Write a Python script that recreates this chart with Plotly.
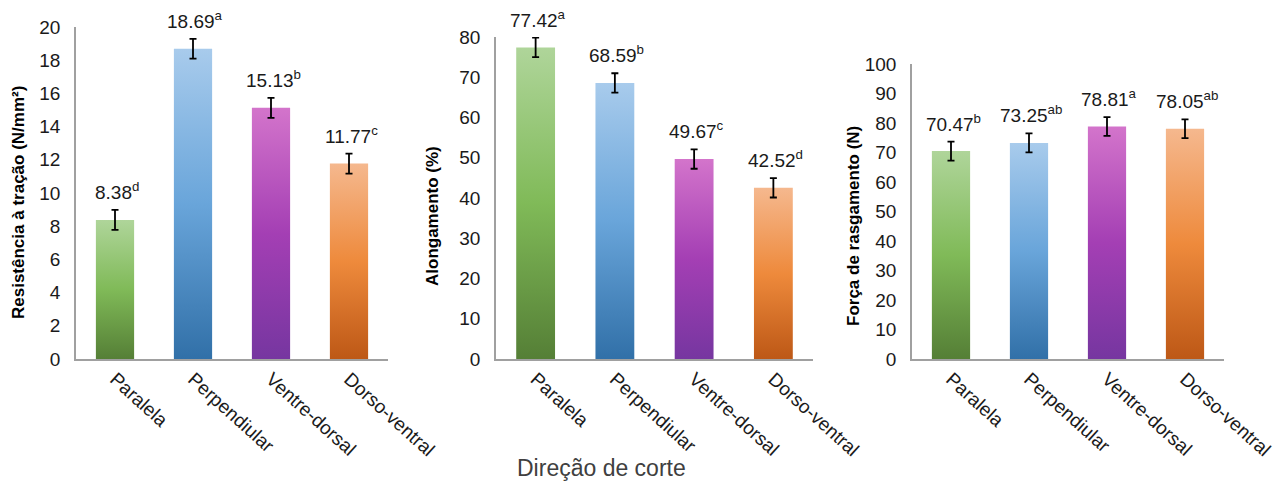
import plotly.graph_objects as go

categories = ["Paralela", "Perpendiular", "Ventre-dorsal", "Dorso-ventral"]

resistencia = [8.38, 18.69, 15.13, 11.77]
resistencia_err = [0.6, 0.6, 0.6, 0.6]
resistencia_sig = ["d", "a", "b", "c"]

alongamento = [77.42, 68.59, 49.67, 42.52]
alongamento_err = [2.4, 2.4, 2.4, 2.4]
alongamento_sig = ["a", "b", "c", "d"]

forca = [70.47, 73.25, 78.81, 78.05]
forca_err = [3.2, 3.2, 3.2, 3.2]
forca_sig = ["b", "ab", "a", "ab"]

y_titles = ["Resistência à tração (N/mm²)", "Alongamento (%)", "Força de rasgamento (N)"]
y_ticks = [list(range(0, 21, 2)), list(range(0, 81, 10)), list(range(0, 101, 10))]
y_max = [20, 80, 100]
x_title = "Direção de corte"

# gradient (bottom, middle, top) per category
grads = [
    ["#557f36", "#80ba58", "#afd59a"],
    ["#3170a8", "#69a5da", "#a8cbec"],
    ["#7636a0", "#a43fb4", "#d374cb"],
    ["#bd5816", "#ee8a3c", "#f5b88e"],
]

W, H = 1277, 482
x_dom = [(76, 388), (496, 813), (912, 1224)]
y_top_px = [27, 37, 64]
y_zero_px = 359
title_x_px = [18, 433, 853]
title_y_px = [189, 202, 212]

fig = go.Figure()
series = [
    (resistencia, resistencia_err, resistencia_sig),
    (alongamento, alongamento_err, alongamento_sig),
    (forca, forca_err, forca_sig),
]
bw = 0.49
annotations = []
for i, (vals, errs, sigs) in enumerate(series):
    xa = "x" if i == 0 else f"x{i+1}"
    ya = "y" if i == 0 else f"y{i+1}"
    for j, v in enumerate(vals):
        xs = [j - bw / 2, j + bw / 2, j + bw / 2, j - bw / 2, j - bw / 2]
        ys = [0, 0, v, v, 0]
        fig.add_trace(go.Scatter(
            x=xs, y=ys, xaxis=xa, yaxis=ya, mode="none", fill="toself",
            fillgradient=dict(type="vertical",
                              colorscale=[[0, grads[j][0]], [0.5, grads[j][1]], [1, grads[j][2]]]),
            showlegend=False, hoverinfo="skip"))
    fig.add_trace(go.Scatter(
        x=list(range(len(vals))), y=vals, xaxis=xa, yaxis=ya, mode="markers",
        marker=dict(size=1, opacity=0),
        error_y=dict(type="data", array=errs, visible=True, color="#000000", thickness=1.8, width=3.5),
        showlegend=False, hoverinfo="skip"))
    for j, v in enumerate(vals):
        annotations.append(dict(
            x=j, y=v + errs[j], xref=xa, yref=ya, xanchor="center", yanchor="bottom",
            text=f"{v:.2f}<sup>{sigs[j]}</sup>", showarrow=False, yshift=5, xshift=2,
            font=dict(size=19, color="#1a1a1a", family="Liberation Sans")))
    annotations.append(dict(
        x=title_x_px[i] / W, y=(H - title_y_px[i]) / H, xref="paper", yref="paper",
        xanchor="center", yanchor="middle", textangle=-90, text=f"<b>{y_titles[i]}</b>",
        showarrow=False, yshift=-14, font=dict(size=17, color="#000000", family="Liberation Sans")))

annotations.append(dict(
    x=601 / W, y=(H - 468) / H, xref="paper", yref="paper", xanchor="center", yanchor="middle",
    text=x_title, showarrow=False, font=dict(size=23, color="#404040", family="Liberation Sans")))

layout = dict(
    width=W, height=H, margin=dict(l=0, r=0, t=0, b=0, autoexpand=False),
    plot_bgcolor="white", paper_bgcolor="white",
    font=dict(family="Liberation Sans", size=19, color="#1a1a1a"),
    annotations=annotations,
)
for i in range(3):
    xk = "xaxis" if i == 0 else f"xaxis{i+1}"
    yk = "yaxis" if i == 0 else f"yaxis{i+1}"
    ya = "y" if i == 0 else f"y{i+1}"
    xa = "x" if i == 0 else f"x{i+1}"
    layout[xk] = dict(
        domain=[x_dom[i][0] / W, x_dom[i][1] / W], anchor=ya, range=[-0.5, 3.5],
        tickvals=list(range(4)), ticktext=categories, tickangle=42, automargin=False,
        showline=True, linecolor="#a0a0a0", linewidth=1.5, showgrid=False, zeroline=False,
        ticks="", tickfont=dict(size=19, color="#1a1a1a"))
    layout[yk] = dict(
        domain=[(H - y_zero_px) / H, (H - y_top_px[i]) / H], anchor=xa, range=[0, y_max[i]],
        tickvals=y_ticks[i], showline=True, linecolor="#a0a0a0", linewidth=1.5, automargin=False,
        showgrid=False, zeroline=False, ticks="", ticklabelstandoff=10,
        tickfont=dict(size=19, color="#1a1a1a"))

fig.update_layout(**layout)
fig.write_html(
    "out.html",
    config={"displayModeBar": False},
    post_script="document.body.style.margin='0';document.body.style.overflow='hidden';",
)
